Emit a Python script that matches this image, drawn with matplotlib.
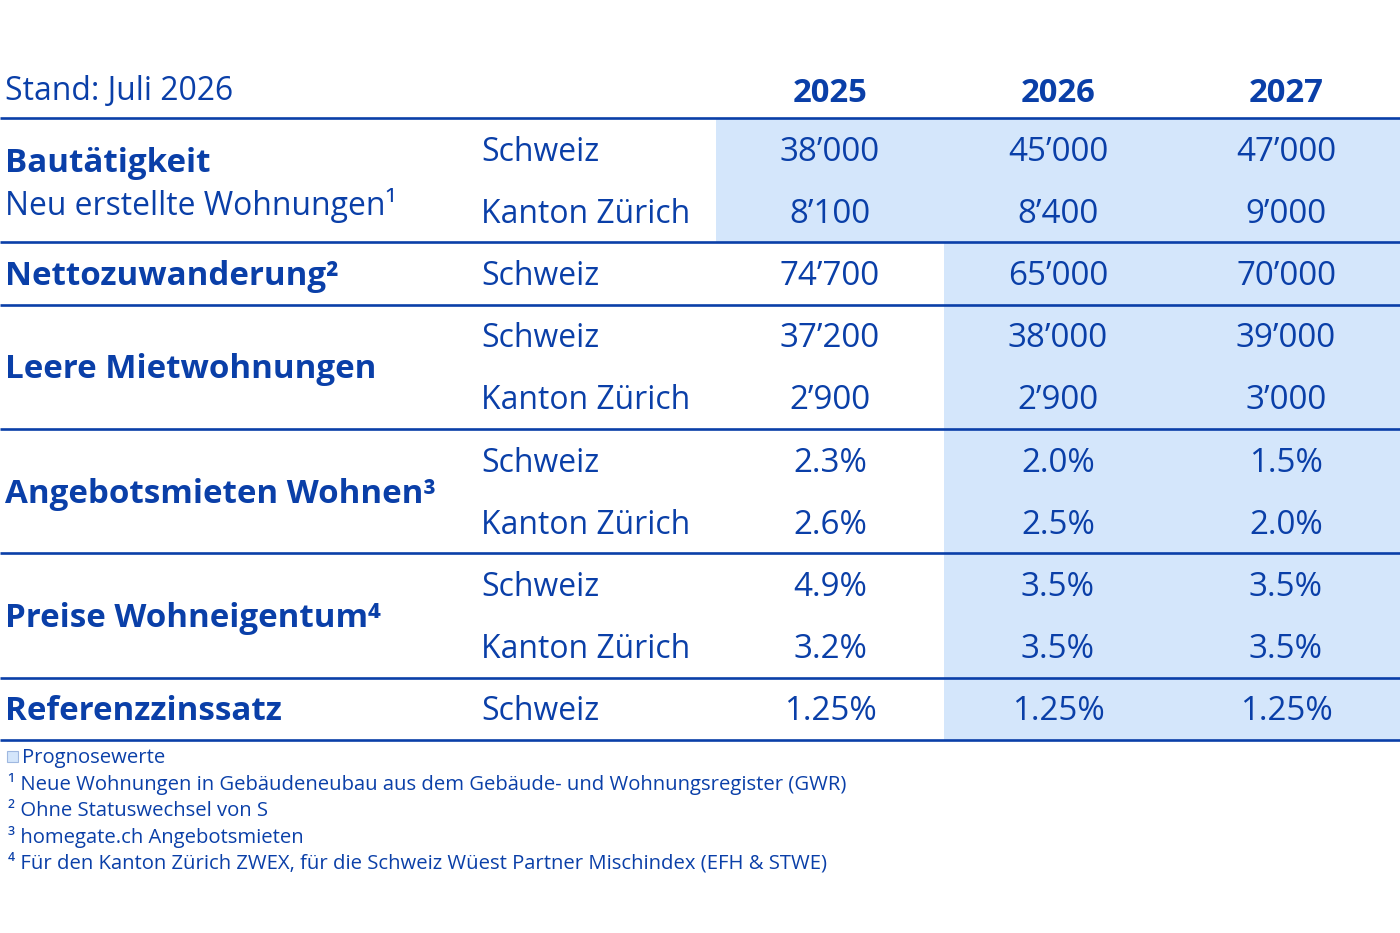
import matplotlib
matplotlib.use("Agg")
import matplotlib.pyplot as plt
from matplotlib.patches import Rectangle

# ---- data ----
years = ["2025", "2026", "2027"]
group_titles = ["Bautätigkeit", "Nettozuwanderung²", "Leere Mietwohnungen",
                "Angebotsmieten Wohnen³", "Preise Wohneigentum⁴", "Referenzzinssatz"]
group_subtitles = ["Neu erstellte Wohnungen¹", "", "", "", "", ""]
group_regions = [
    ["Schweiz", "Kanton Zürich"],
    ["Schweiz"],
    ["Schweiz", "Kanton Zürich"],
    ["Schweiz", "Kanton Zürich"],
    ["Schweiz", "Kanton Zürich"],
    ["Schweiz"],
]
group_values = [
    [["38’000", "45’000", "47’000"], ["8’100", "8’400", "9’000"]],
    [["74’700", "65’000", "70’000"]],
    [["37’200", "38’000", "39’000"], ["2’900", "2’900", "3’000"]],
    [["2.3%", "2.0%", "1.5%"], ["2.6%", "2.5%", "2.0%"]],
    [["4.9%", "3.5%", "3.5%"], ["3.2%", "3.5%", "3.5%"]],
    [["1.25%", "1.25%", "1.25%"]],
]
# index of first forecast year column per group
forecast_from = [0, 1, 1, 1, 1, 1]
stand_label = "Stand: Juli 2026"
footnotes = [
    "Prognosewerte",
    "¹ Neue Wohnungen in Gebäudeneubau aus dem Gebäude- und Wohnungsregister (GWR)",
    "² Ohne Statuswechsel von S",
    "³ homegate.ch Angebotsmieten",
    "⁴ Für den Kanton Zürich ZWEX, für die Schweiz Wüest Partner Mischindex (EFH & STWE)",
]

# ---- style ----
blue = "#0a3fa8"
shade = "#d4e6fb"
fam = ["Open Sans", "DejaVu Sans"]
plt.rcParams["font.family"] = fam

W, H = 1400, 933
fig = plt.figure(figsize=(14, 9.33), dpi=100)
ax = fig.add_axes([0, 0, 1, 1])
ax.set_xlim(0, W)
ax.set_ylim(H, 0)
ax.axis("off")
renderer = fig.canvas.get_renderer()


def fit_size(s, target_px, weight="normal"):
    # font size that makes string s about target_px wide
    t = fig.text(0, 0, s, fontsize=10, fontweight=weight)
    w = t.get_window_extent(renderer).width
    t.remove()
    return 10 * target_px / w


fs_body = fit_size("Kanton Zürich", 209)
fs_num = fit_size("38’000", 101)
fs_label = fit_size("Leere Mietwohnungen", 373, "bold")
fs_year = fit_size("2025", 75, "bold")
fs_foot = fit_size(footnotes[3][2:], 283)

row_top = 118
row_h = 62.2
col_x0 = 830
col_w = 228
region_x = 481
label_x = 5
dy = 3  # small vertical nudge for text

# header
ax.text(label_x, 88 + dy, stand_label, fontsize=fs_body, color=blue, va="center", ha="left")
for j, y in enumerate(years):
    ax.text(col_x0 + j * col_w, 90 + dy, y, fontsize=fs_year, color=blue, fontweight="bold",
            va="center", ha="center")
ax.plot([0, W], [row_top, row_top], color=blue, lw=1.9, solid_capstyle="butt", zorder=3)

r = 0
for g, title in enumerate(group_titles):
    n = len(group_regions[g])
    top = row_top + r * row_h
    bottom = top + n * row_h
    # forecast shading
    xs = col_x0 - col_w / 2 + forecast_from[g] * col_w
    ax.add_patch(Rectangle((xs, top), W - xs, bottom - top, facecolor=shade,
                           edgecolor="none", zorder=1))
    # group label
    mid = (top + bottom) / 2 + dy
    if group_subtitles[g]:
        ax.text(label_x, mid - 20, title, fontsize=fs_label, color=blue, fontweight="bold",
                va="center", ha="left")
        ax.text(label_x, mid + 22, group_subtitles[g], fontsize=fs_body, color=blue,
                va="center", ha="left")
    else:
        ax.text(label_x, mid, title, fontsize=fs_label, color=blue, fontweight="bold",
                va="center", ha="left")
    for k in range(n):
        yc = top + (k + 0.5) * row_h + dy
        ax.text(region_x, yc, group_regions[g][k], fontsize=fs_body, color=blue,
                va="center", ha="left", zorder=4)
        for j, v in enumerate(group_values[g][k]):
            ax.text(col_x0 + j * col_w, yc, v, fontsize=fs_num, color=blue,
                    va="center", ha="center", zorder=4)
    ax.plot([0, W], [bottom, bottom], color=blue, lw=1.9, solid_capstyle="butt", zorder=3)
    r += n

# footnotes
foot_y0 = 757
foot_dy = 26.3
ax.add_patch(Rectangle((7, foot_y0 - 6), 11, 11, facecolor=shade, edgecolor="#9fb8e0",
                       lw=0.8, zorder=3))
for i, t in enumerate(footnotes):
    x = 22 if i == 0 else 8
    ax.text(x, foot_y0 + i * foot_dy + 1, t, fontsize=fs_foot, color=blue, va="center",
            ha="left")

fig.savefig("out.png", dpi=100, facecolor="white")
